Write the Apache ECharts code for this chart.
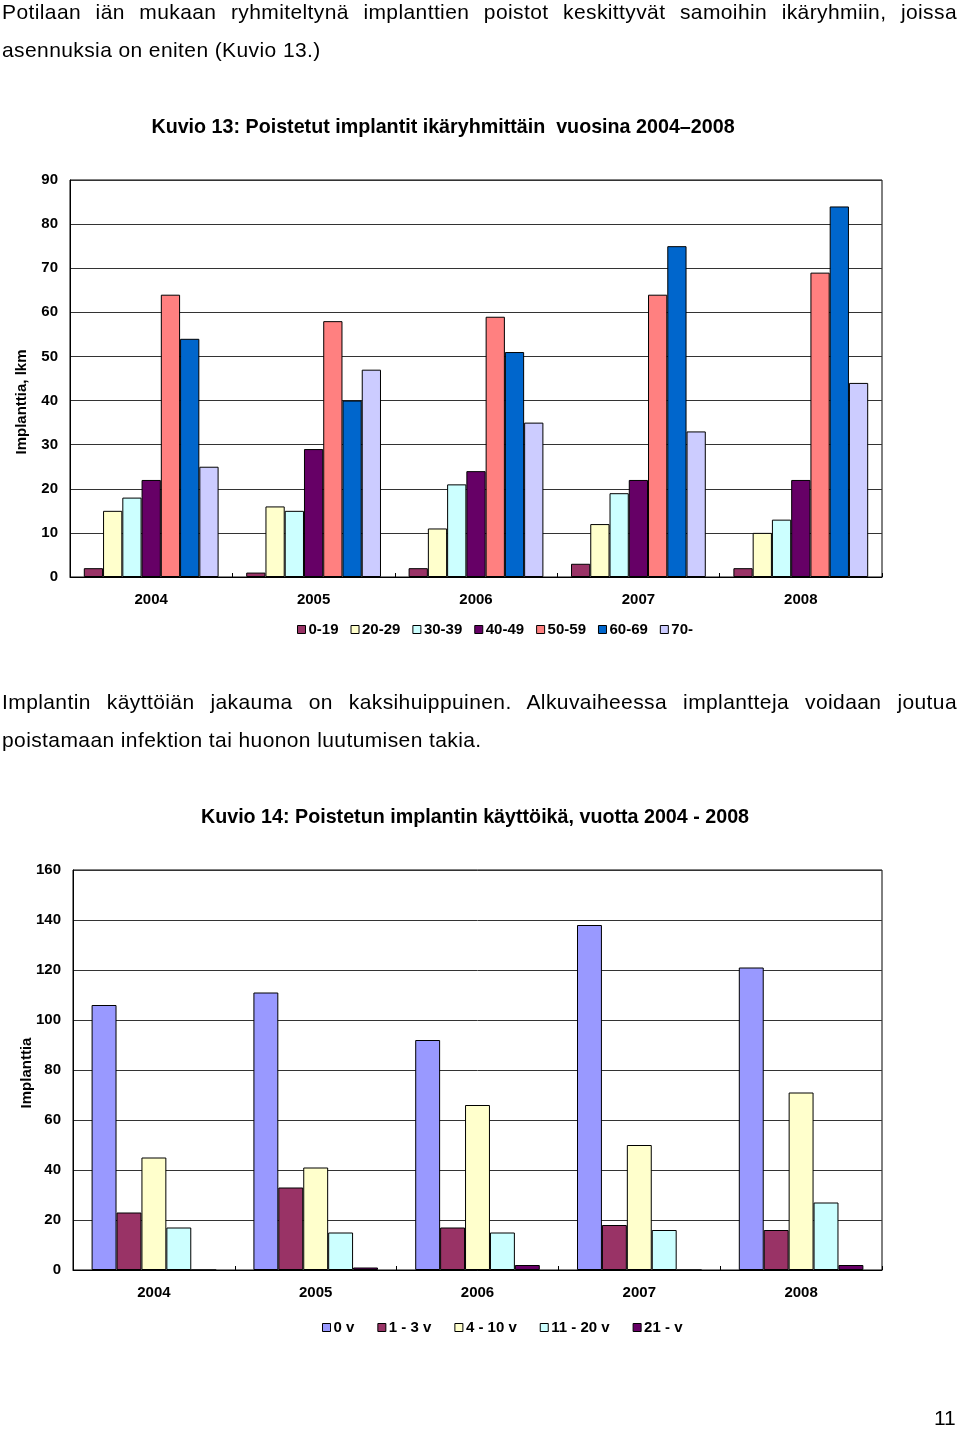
<!DOCTYPE html>
<html><head><meta charset="utf-8">
<script src="https://cdn.jsdelivr.net/npm/echarts@6/dist/echarts.min.js"></script>
<style>
html,body{margin:0;padding:0;background:#fff;}
#wrap{position:relative;width:960px;height:1430px;overflow:hidden;font-family:"Liberation Sans",Arial,sans-serif;}
#chart{position:absolute;left:0;top:0;width:960px;height:1430px;}
.l{position:absolute;left:2px;width:955px;font-size:21px;line-height:24px;color:#000;letter-spacing:0.4px;white-space:nowrap;}
.j{text-align:justify;text-align-last:justify;white-space:normal;}
#pg{position:absolute;left:934px;top:1406px;font-size:21px;color:#000;}
</style></head>
<body><div id="wrap">
<div id="chart"></div>
<div class="l j" style="top:0px;">Potilaan iän mukaan ryhmiteltynä implanttien poistot keskittyvät samoihin ikäryhmiin, joissa</div>
<div class="l" style="top:38px;">asennuksia on eniten (Kuvio 13.)</div>
<div class="l j" style="top:690px;">Implantin käyttöiän jakauma on kaksihuippuinen. Alkuvaiheessa implantteja voidaan joutua</div>
<div class="l" style="top:728px;">poistamaan infektion tai huonon luutumisen takia.</div>
<div id="pg">11</div>
</div>
<script>
// ---- Chart 1 data ----
const years = ['2004','2005','2006','2007','2008'];
const ageGroups = ['0-19','20-29','30-39','40-49','50-59','60-69','70-'];
const age0_19  = [2, 1, 2, 3, 2];
const age20_29 = [15, 16, 11, 12, 10];
const age30_39 = [18, 15, 21, 19, 13];
const age40_49 = [22, 29, 24, 22, 22];
const age50_59 = [64, 58, 59, 64, 69];
const age60_69 = [54, 40, 51, 75, 84];
const age70    = [25, 47, 35, 33, 44];
const ageColors = ['#993366','#FFFFCC','#CCFFFF','#660066','#FF8080','#0066CC','#CCCCFF'];
const title1 = 'Kuvio 13: Poistetut implantit ikäryhmittäin  vuosina 2004–2008';
const yName1 = 'Implanttia, lkm';

// ---- Chart 2 data ----
const lifeGroups = ['0 v','1 - 3 v','4 - 10 v','11 - 20 v','21 - v'];
const life0   = [106, 111, 92, 138, 121];
const life1_3 = [23, 33, 17, 18, 16];
const life4_10 = [45, 41, 66, 50, 71];
const life11_20 = [17, 15, 15, 16, 27];
const life21  = [0, 1, 2, 0, 2];
const lifeColors = ['#9999FF','#993366','#FFFFCC','#CCFFFF','#660066'];
const title2 = 'Kuvio 14: Poistetun implantin käyttöikä, vuotta 2004 - 2008';
const yName2 = 'Implanttia';

const ageData = [age0_19, age20_29, age30_39, age40_49, age50_59, age60_69, age70];
const lifeData = [life0, life1_3, life4_10, life11_20, life21];

const FONT = '"Liberation Sans", Arial, sans-serif';
const lbl = {color:'#000', fontWeight:'bold', fontSize:15, fontFamily:FONT};

function xAx(gi){
  return {type:'category', gridIndex:gi, data:years,
    axisLine:{lineStyle:{color:'#000',width:1}},
    axisTick:{show:true, inside:true, length:4, lineStyle:{color:'#000'}},
    axisLabel:Object.assign({margin:15}, lbl)};
}
function yAx(gi, max, interval){
  return {type:'value', gridIndex:gi, min:0, max:max, interval:interval,
    axisLine:{show:true, lineStyle:{color:'#000',width:1}},
    axisTick:{show:false},
    axisLabel:Object.assign({margin:12}, lbl),
    splitLine:{show:true, lineStyle:{color:'#333', width:1}}};
}

const series = [];
ageGroups.forEach((g,i)=>{
  series.push({name:g, type:'bar', xAxisIndex:0, yAxisIndex:0, data:ageData[i],
    barGap:'0%', barCategoryGap:'17%',
    itemStyle:{color:ageColors[i], borderColor:'#000', borderWidth:1}});
});
lifeGroups.forEach((g,i)=>{
  series.push({name:g, type:'bar', xAxisIndex:1, yAxisIndex:1, data:lifeData[i],
    barGap:'0%', barCategoryGap:'23%',
    itemStyle:{color:lifeColors[i], borderColor:'#000', borderWidth:1}});
});

const chart = echarts.init(document.getElementById('chart'), null, {renderer:'canvas'});
chart.setOption({
  animation:false,
  backgroundColor:'#fff',
  textStyle:{fontFamily:FONT},
  title:[
    {text:title1, left:438, top:113, textAlign:'center',
     textStyle:{color:'#000', fontWeight:'bold', fontSize:19.7, fontFamily:FONT}},
    {text:title2, left:470, top:803, textAlign:'center',
     textStyle:{color:'#000', fontWeight:'bold', fontSize:19.7, fontFamily:FONT}}
  ],
  graphic:[
    {type:'text', x:22, y:402, rotation:Math.PI/2,
     style:{text:yName1, fill:'#000', font:'bold 15px '+FONT, textAlign:'center', textVerticalAlign:'middle'}},
    {type:'text', x:27, y:1073, rotation:Math.PI/2,
     style:{text:yName2, fill:'#000', font:'bold 15px '+FONT, textAlign:'center', textVerticalAlign:'middle'}}
  ],
  grid:[
    {left:70, right:78, top:180, height:397, show:true, borderColor:'#000', borderWidth:1, containLabel:false},
    {left:73, right:78, top:870, height:400, show:true, borderColor:'#000', borderWidth:1, containLabel:false}
  ],
  xAxis:[xAx(0), xAx(1)],
  yAxis:[yAx(0, 90, 10), yAx(1, 160, 20)],
  legend:[
    {data:ageGroups, top:622, icon:'rect', itemWidth:8, itemHeight:8, itemGap:12,
     padding:0, left:297, textStyle:Object.assign({padding:[0,0,0,-2]}, lbl),
     itemStyle:{borderColor:'#000', borderWidth:1}},
    {data:lifeGroups, top:1320, icon:'rect', itemWidth:8, itemHeight:8, itemGap:23,
     padding:0, left:322, textStyle:Object.assign({padding:[0,0,0,-2]}, lbl),
     itemStyle:{borderColor:'#000', borderWidth:1}}
  ],
  series:series
});
</script>
</body></html>
